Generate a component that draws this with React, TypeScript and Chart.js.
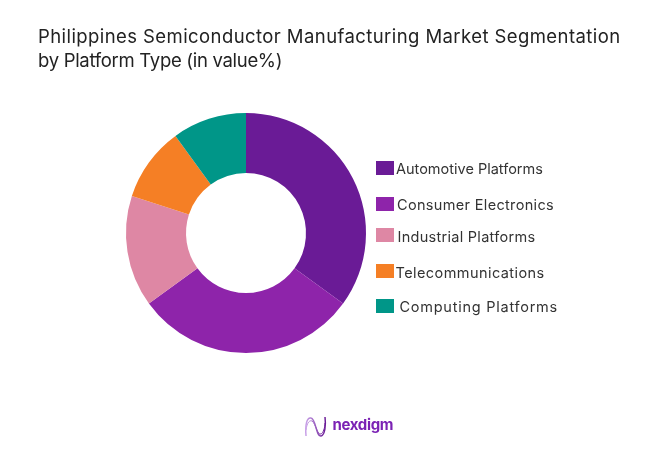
import { useEffect, useRef } from "react";
import Chart from "chart.js/auto";

const titleLines = [
  "Philippines Semiconductor Manufacturing Market Segmentation",
  "by Platform Type (in value%)",
];
const platforms = [
  "Automotive Platforms",
  "Consumer Electronics",
  "Industrial Platforms",
  "Telecommunications",
  "Computing Platforms",
];
const shares = [35, 30, 15, 10, 10];
const colors = ["#6A1B96", "#8E24AA", "#DE87A4", "#F57F25", "#009688"];

// the legend in the original is hand placed, rows are not evenly spaced
const swatchTops = [161, 197, 228, 264, 299];
const labelTops = [160, 196, 228, 264, 298];
const labelLefts = [396, 397, 397.5, 395.5, 399.5];
const labelSpacing = [0, 0.33, 0.28, 0.43, 0.75];
const titleSpacing = [0.42, -0.3];

const FONT = "Inter, sans-serif";

function Logo() {
  return (
    <div style={{ position: "absolute", left: 304, top: 415, width: 92, height: 24 }}>
      <svg width="24" height="24" viewBox="0 0 24 24" style={{ position: "absolute", left: 0, top: 0 }}>
        <defs>
          <linearGradient id="wave" x1="0" x2="1" y1="0" y2="0">
            <stop offset="0" stopColor="#C9A2E8" />
            <stop offset="1" stopColor="#6A1B96" />
          </linearGradient>
        </defs>
        <path d="M2 21 C1 9 3 2 7 3 C12 4 12 22 17 21 C21 20 22 10 21 2" fill="none" stroke="url(#wave)" strokeWidth="1.5" />
        <path d="M2 15 C3 7 6 5 8 6 C12 9 13 20 17 19 C19 18 21 13 21 8" fill="none" stroke="url(#wave)" strokeWidth="1" />
      </svg>
      <span
        style={{
          position: "absolute",
          left: 28.5,
          top: 0,
          fontFamily: FONT,
          fontSize: 15,
          fontWeight: 700,
          letterSpacing: -0.35,
          color: "#7B22B4",
          lineHeight: "20px",
        }}
      >
        nexdigm
      </span>
    </div>
  );
}

export default function App() {
  const canvasRef = useRef<HTMLCanvasElement | null>(null);

  useEffect(() => {
    document.body.style.margin = "0";
    document.body.style.background = "#fff";
    const canvas = canvasRef.current;
    if (!canvas) return;
    const chart = new Chart(canvas, {
      type: "doughnut",
      data: {
        labels: platforms,
        datasets: [{ data: shares, backgroundColor: colors, borderWidth: 0 }],
      },
      options: {
        responsive: false,
        animation: false,
        cutout: "50%",
        layout: { padding: { left: 126, right: 301, top: 113, bottom: 108 } },
        plugins: { legend: { display: false }, tooltip: { enabled: false } },
      },
    });
    return () => chart.destroy();
  }, []);

  return (
    <div style={{ position: "relative", width: 667, height: 461, overflow: "hidden", background: "#fff" }}>
      <canvas ref={canvasRef} width={667} height={461} style={{ position: "absolute", left: 0, top: 0 }} />
      {titleLines.map((line, i) => (
        <div
          key={line}
          style={{
            position: "absolute",
            left: 38,
            top: 24 + i * 24,
            fontFamily: FONT,
            fontSize: 18.5,
            lineHeight: "24px",
            letterSpacing: titleSpacing[i],
            color: "#222",
            whiteSpace: "nowrap",
          }}
        >
          {line}
        </div>
      ))}
      {platforms.map((name, i) => (
        <div key={name}>
          <div
            style={{
              position: "absolute",
              left: 376,
              top: swatchTops[i],
              width: 18,
              height: 14,
              background: colors[i],
            }}
          />
          <div
            style={{
              position: "absolute",
              left: labelLefts[i],
              top: labelTops[i],
              fontFamily: FONT,
              fontSize: 14.5,
              lineHeight: "18px",
              letterSpacing: labelSpacing[i],
              color: "#333",
              whiteSpace: "nowrap",
            }}
          >
            {name}
          </div>
        </div>
      ))}
      <Logo />
    </div>
  );
}
